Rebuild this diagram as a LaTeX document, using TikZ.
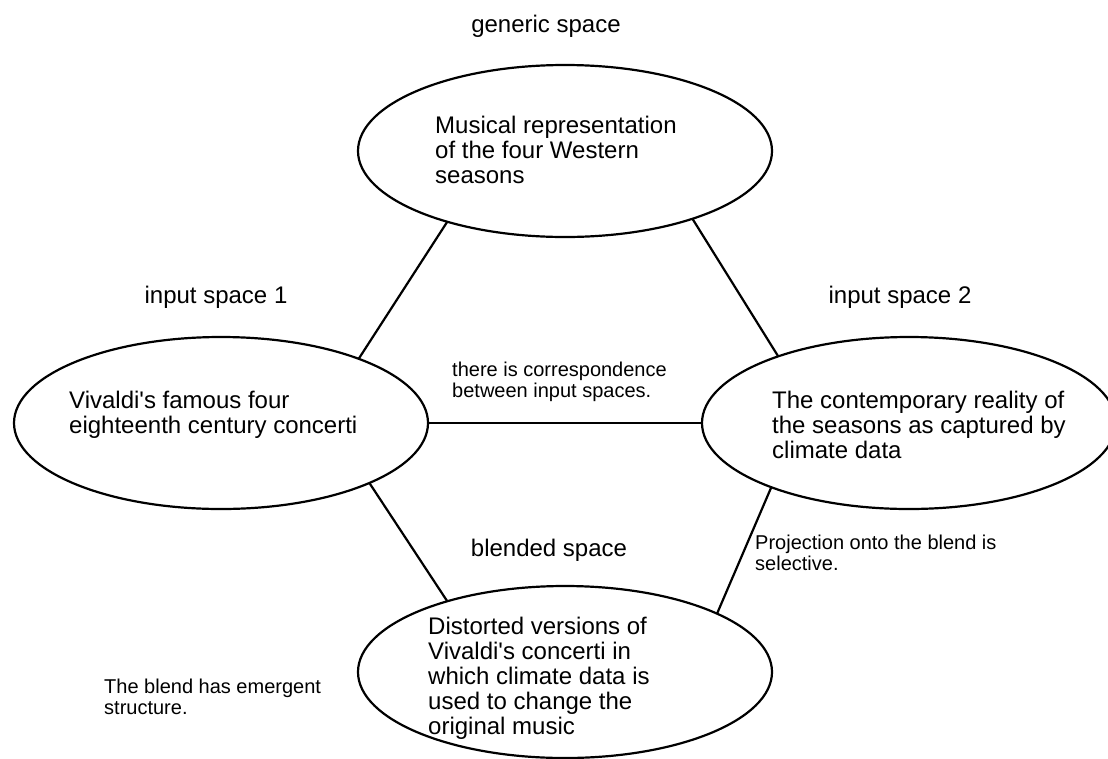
\documentclass[tikz,border=0pt]{standalone}
\usepackage{fontspec}
\defaultfontfeatures[\rmfamily]{}
\setmainfont{Liberation Sans}
\usetikzlibrary{shapes.geometric}
\begin{document}
\begin{tikzpicture}[x=1pt,y=-1pt,
  space/.style={ellipse,draw,line width=2.2pt,minimum width=414pt,minimum height=172pt,inner sep=0pt,outer sep=0pt},
  body/.style={anchor=base west,align=left,inner sep=0pt,font=\fontsize{24}{25}\selectfont},
  note/.style={anchor=base west,align=left,inner sep=0pt,font=\fontsize{20}{21}\selectfont},
  title/.style={anchor=base,inner sep=0pt,font=\fontsize{24}{25}\selectfont},
  link/.style={line width=2.2pt}]
  % canvas
  \fill[white] (0,0) rectangle (1108,758);
  \useasboundingbox (0,0) rectangle (1108,758);

  % the four mental spaces
  \node[space] (gen) at (565,151) {};
  \node[space] (in1) at (221,423) {};
  \node[space] (in2) at (909,423) {};
  \node[space] (bl)  at (565,672) {};

  % contents of each space (positioned by the baseline of the last line)
  \node[body] (gentext) at (435,183) {Musical representation\\of the four Western\\seasons};
  \node[body] (in1text) at (69,433) {Vivaldi's famous four\\eighteenth century concerti};
  \node[body] (in2text) at (772,458) {The contemporary reality of\\the seasons as captured by\\climate data};
  \node[body] (bltext) at (428,734) {Distorted versions of\\Vivaldi's concerti in\\which climate data is\\used to change the\\original music};

  % space titles
  \node[title] (gentitle) at (546,32) {generic space};
  \node[title] (in1title) at (216,303) {input space 1};
  \node[title] (in2title) at (900,303) {input space 2};
  \node[title] (bltitle) at (549,556) {blended space};

  % annotations
  \node[note] (corr) at (452,397) {there is correspondence\\between input spaces.};
  \node[note] (proj) at (755,570) {Projection onto the blend is\\selective.};
  \node[note] (emerg) at (104,714) {The blend has emergent\\structure.};

  % connectors between spaces
  \draw[link] (gen.211.6) -- (in1.25.7);
  \draw[link] (gen.332.3) -- (in2.153.6);
  \draw[link] (in1.east) -- (in2.west);
  \draw[link] (in1.338.3) -- (bl.149.5);
  \draw[link] (in2.205.9) -- (bl.21.9);
\end{tikzpicture}
\end{document}
